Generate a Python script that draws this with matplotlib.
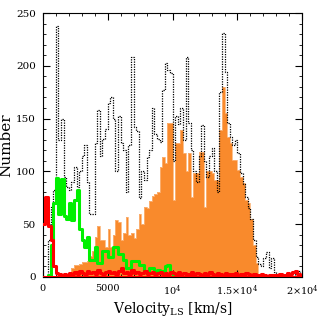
import numpy as np
import matplotlib
matplotlib.use("Agg")
import matplotlib.pyplot as plt
from matplotlib.ticker import MultipleLocator, FixedLocator, FixedFormatter

plt.rcParams['font.family'] = ['DejaVu Serif']
plt.rcParams['mathtext.fontset'] = 'dejavuserif'

# bin edges: 0..20000 km/s, 200 km/s wide
bin_width = 200
n_bins = 100

black_all = [0, 0, 35, 66, 82, 238, 130, 150, 95, 85,
             82, 90, 104, 85, 100, 115, 125, 90, 60, 60,
             127, 158, 115, 131, 140, 165, 170, 150, 100, 152,
             127, 120, 80, 125, 208, 142, 138, 75, 100, 92,
             114, 120, 160, 135, 131, 128, 177, 203, 196, 193,
             110, 152, 145, 160, 130, 208, 146, 120, 100, 90,
             115, 144, 110, 95, 115, 122, 100, 80, 175, 231,
             194, 146, 133, 125, 130, 117, 98, 88, 76, 65,
             55, 35, 19, 12, 10, 18, 24, 8, 18, 5,
             2, 1, 0, 1, 2, 1, 0, 3, 6, 2]

orange_sample = [0, 0, 0, 0, 0, 0, 0, 0, 0, 0,
                 3, 8, 11, 11, 12, 14, 14, 15, 20, 25,
                 38, 48, 35, 35, 28, 45, 28, 40, 54, 52,
                 35, 42, 57, 40, 42, 37, 45, 60, 50, 66,
                 65, 72, 77, 79, 80, 104, 114, 108, 146, 146,
                 73, 127, 127, 139, 117, 100, 117, 76, 98, 98,
                 118, 118, 66, 100, 100, 98, 92, 92, 139, 180,
                 155, 133, 127, 111, 111, 101, 95, 89, 73, 70,
                 55, 30, 13, 0, 0, 0, 0, 0, 0, 0,
                 0, 0, 0, 0, 0, 0, 0, 0, 0, 0]

green_sample = [0, 0, 2, 30, 70, 94, 60, 93, 58, 55,
                70, 54, 73, 82, 45, 35, 28, 38, 16, 16,
                28, 13, 13, 25, 25, 19, 19, 28, 28, 22,
                22, 16, 8, 8, 15, 15, 15, 11, 11, 6,
                6, 8, 8, 5, 7, 5, 6, 10, 11, 4,
                2, 1, 0, 0, 0, 0, 0, 0, 0, 0,
                0, 0, 0, 0, 0, 0, 0, 0, 0, 0,
                0, 0, 0, 0, 0, 0, 0, 0, 0, 0,
                0, 0, 0, 0, 0, 0, 0, 0, 0, 0,
                0, 0, 0, 0, 0, 0, 0, 0, 0, 0]

red_sample = [50, 76, 48, 35, 10, 4, 3, 2, 3, 2,
              4, 3, 5, 3, 6, 4, 3, 6, 4, 5,
              3, 7, 4, 3, 5, 6, 4, 5, 3, 6,
              8, 4, 5, 3, 7, 4, 5, 3, 4, 6,
              3, 4, 5, 3, 4, 5, 3, 4, 3, 5,
              4, 3, 5, 3, 4, 2, 3, 5, 3, 4,
              3, 2, 4, 3, 5, 3, 2, 4, 3, 2,
              4, 3, 2, 3, 4, 2, 3, 2, 4, 3,
              2, 3, 2, 2, 3, 2, 1, 2, 2, 1,
              2, 3, 2, 2, 4, 3, 5, 6, 3, 2]

x_tick_values = [0, 5000, 10000, 15000, 20000]
x_tick_labels = ['0', '5000', r'$10^4$', r'$1.5{\times}10^4$', r'$2{\times}10^4$']
y_tick_values = [0, 50, 100, 150, 200, 250]

edges = np.arange(n_bins + 1) * bin_width

def step_xy(vals):
    v = np.asarray(vals, dtype=float)
    return edges, np.append(v, v[-1])

fig = plt.figure(figsize=(3.19, 3.19), dpi=100)
ax = fig.add_axes([0.134, 0.132, 0.814, 0.827])

ex, oy = step_xy(orange_sample)
ax.fill_between(ex, 0, oy, step='post', color='#F98A2C', linewidth=0, zorder=1)
ax.step(ex, oy, where='post', color='#FBB57A', lw=0.6, zorder=1.5)

ex, by = step_xy(black_all)
ax.step(ex, by, where='post', color='black', lw=0.9, linestyle=(0, (1, 1)), zorder=2)

ex, gy = step_xy(green_sample)
ax.step(ex, gy, where='post', color='#00F000', lw=2.2, zorder=3)

ex, ry = step_xy(red_sample)
ax.step(ex, ry, where='post', color='#FF0000', lw=2.2, zorder=4)
ax.axhline(0, color='#FF0000', lw=2.2, zorder=4)

ax.set_xlim(0, 20000)
ax.set_ylim(0, 250)

ax.xaxis.set_major_locator(FixedLocator(x_tick_values))
ax.xaxis.set_major_formatter(FixedFormatter(x_tick_labels))
ax.xaxis.set_minor_locator(MultipleLocator(1000))
ax.yaxis.set_major_locator(FixedLocator(y_tick_values))
ax.yaxis.set_minor_locator(MultipleLocator(10))

ax.tick_params(which='both', direction='in', top=True, right=True, labelsize=7.5, pad=5)
ax.tick_params(axis='x', which='both', labelsize=7)
ax.tick_params(which='major', length=5, width=0.8)
ax.tick_params(which='minor', length=2.5, width=0.6)
for s in ax.spines.values():
    s.set_linewidth(0.8)

ax.set_xlabel(r'Velocity$_{\rm LS}$ [km/s]', fontsize=10, labelpad=1)
ax.set_ylabel('Number', fontsize=11, labelpad=2)

fig.savefig('out.png', dpi=100)
